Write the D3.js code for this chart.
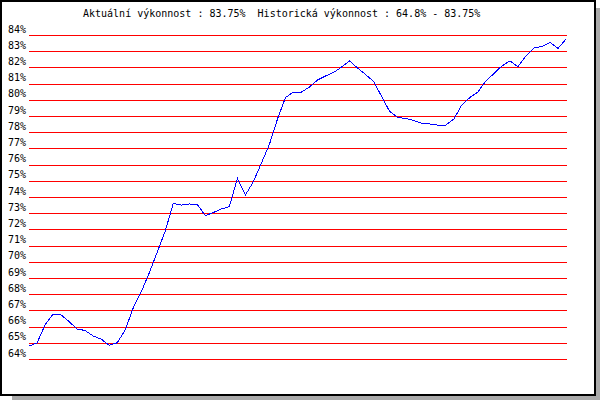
<!DOCTYPE html>
<html>
<head>
<meta charset="utf-8">
<script src="https://cdn.jsdelivr.net/npm/d3@7"></script>
<style>
  html, body { margin: 0; padding: 0; background: #fff; }
  svg { display: block; }
  text { font-family: "DejaVu Sans Mono", "Liberation Mono", monospace; font-size: 10px; fill: #000; white-space: pre; }
</style>
</head>
<body>
<script>
// ---- data ----
const title = "Aktuální výkonnost : 83.75%  Historická výkonnost : 64.8% - 83.75%";
const tickValues = [64,65,66,67,68,69,70,71,72,73,74,75,76,77,78,79,80,81,82,83,84];
const tickLabels = tickValues.map(v => v + "%");
const performance = [
  64.80, 64.99, 66.10, 66.78, 66.72, 66.31, 65.85, 65.76, 65.42, 65.23,
  64.85, 65.00, 65.79, 67.15, 68.14, 69.31, 70.60, 71.90, 73.60, 73.50,
  73.57, 73.54, 72.85, 73.04, 73.26, 73.41, 75.15, 74.12, 74.95, 76.10,
  77.25, 78.81, 80.14, 80.48, 80.48, 80.79, 81.22, 81.47, 81.69, 82.02,
  82.40, 81.96, 81.56, 81.13, 80.20, 79.28, 78.91, 78.85, 78.72, 78.55,
  78.51, 78.44, 78.44, 78.81, 79.68, 80.14, 80.48, 81.16, 81.62, 82.09,
  82.40, 82.05, 82.70, 83.20, 83.29, 83.54, 83.17, 83.75
];

// ---- layout ----
const W = 600, H = 400;
const plot = { left: 29, right: 566, top: 35, bottom: 359 };

const svg = d3.select("body").append("svg")
  .attr("width", W).attr("height", H);

// shadow
svg.append("rect").attr("x", 12).attr("y", 8).attr("width", W - 12).attr("height", H - 8)
  .attr("fill", "#aaaaaa");
// box
svg.append("rect").attr("x", 1).attr("y", 1).attr("width", 594).attr("height", 394)
  .attr("fill", "#fff").attr("stroke", "#000").attr("stroke-width", 2);

const x = d3.scaleLinear().domain([0, performance.length - 1]).range([plot.left, plot.right]);
const y = d3.scaleLinear().domain([64, 84]).range([plot.bottom, plot.top]);

// grid lines via axis
const grid = d3.axisRight(y).tickValues(tickValues)
  .tickSize(plot.right - plot.left + 1).tickFormat("");
const g = svg.append("g").attr("transform", `translate(${plot.left},0)`).call(grid);
g.select(".domain").remove();
g.selectAll(".tick line").attr("stroke", "#ff0000").attr("shape-rendering", "crispEdges");

// labels
svg.append("g").selectAll("text").data(tickValues).join("text")
  .attr("x", 8)
  .attr("y", d => y(d) - 2.5)
  .text((d, i) => tickLabels[i]);

// title
svg.append("text").attr("x", 83).attr("y", 17).attr("xml:space", "preserve").text(title);

// line
const line = d3.line().x((d, i) => x(i)).y(d => y(d));
svg.append("path").datum(performance)
  .attr("d", line)
  .attr("fill", "none")
  .attr("stroke", "#0000ff")
  .attr("stroke-width", 1)
  .attr("shape-rendering", "crispEdges");
</script>
</body>
</html>
